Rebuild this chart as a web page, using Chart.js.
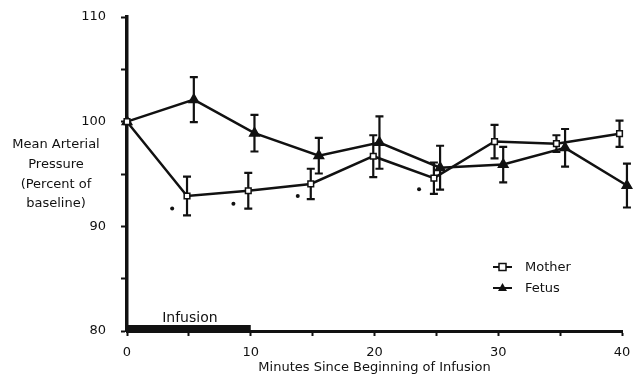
<!DOCTYPE html>
<html>
<head>
<meta charset="utf-8">
<script src="https://cdn.jsdelivr.net/npm/chart.js@4.4.1/dist/chart.umd.min.js"></script>
<style>
  html, body { margin: 0; padding: 0; background: #fff; }
  #wrap { width: 633px; height: 375px; }
</style>
</head>
<body>
<div id="wrap"><canvas id="myChart" width="633" height="375"></canvas></div>
<script>
// values
let motherX = [0, 4.85, 9.8, 14.85, 19.9, 24.8, 29.7, 34.7, 39.8];
let motherY = [100, 92.9, 93.4, 94.05, 96.7, 94.6, 98.1, 97.9, 98.85];
let motherErr = [0, 1.85, 1.7, 1.45, 2.0, 1.5, 1.6, 0.8, 1.25];

let fetusX = [0, 5.4, 10.3, 15.5, 20.4, 25.3, 30.4, 35.4, 40.4];
let fetusY = [100, 102.1, 98.9, 96.75, 98.0, 95.6, 95.9, 97.5, 93.9];
let fetusErr = [0, 2.15, 1.75, 1.7, 2.5, 2.1, 1.7, 1.8, 2.1];

// significance marks (*)
let sigX = [3.65, 8.6, 13.8, 23.6];
let sigY = [91.7, 92.15, 92.9, 93.55];

let infusion = [0, 10];
let yTitle = ['Mean Arterial', 'Pressure', '(Percent of', 'baseline)'];
let xTitle = 'Minutes Since Beginning of Infusion';

const FONT = 'DejaVu Sans';
const INK = '#111';

function pts(xs, ys) {
    return xs.map((x, i) => ({ x: x, y: ys[i] }));
}

// keep the plot box fixed, labels may hang over the padding
function noPad(s) {
    s.paddingLeft = 0; s.paddingRight = 0;
    s.paddingTop = 0; s.paddingBottom = 0;
}

const errorBars = {
    id: 'errorBars',
    beforeDatasetsDraw(chart) {
        const ctx = chart.ctx;
        const xs = chart.scales.x, ys = chart.scales.y;
        const sets = [[motherX, motherY, motherErr], [fetusX, fetusY, fetusErr]];
        ctx.save();
        ctx.strokeStyle = INK;
        ctx.lineWidth = 2.2;
        sets.forEach(s => {
            s[0].forEach((x, i) => {
                if (!s[2][i]) return;
                const px = xs.getPixelForValue(x);
                const top = ys.getPixelForValue(s[1][i] + s[2][i]);
                const bot = ys.getPixelForValue(s[1][i] - s[2][i]);
                ctx.beginPath();
                ctx.moveTo(px, top); ctx.lineTo(px, bot);
                ctx.moveTo(px - 4, top); ctx.lineTo(px + 4, top);
                ctx.moveTo(px - 4, bot); ctx.lineTo(px + 4, bot);
                ctx.stroke();
            });
        });
        ctx.restore();
    }
};

const extras = {
    id: 'extras',
    afterDraw(chart) {
        const ctx = chart.ctx;
        const xs = chart.scales.x;
        const area = chart.chartArea;
        ctx.save();
        // infusion bar
        const x0 = xs.getPixelForValue(infusion[0]);
        const x1 = xs.getPixelForValue(infusion[1]);
        ctx.fillStyle = INK;
        ctx.fillRect(x0, area.bottom - 6, x1 - x0, 8);
        ctx.font = '14px ' + FONT;
        ctx.textAlign = 'center';
        ctx.textBaseline = 'middle';
        ctx.fillText('Infusion', (x0 + x1) / 2 + 1, area.bottom - 13);

        // y title
        ctx.font = '13px ' + FONT;
        yTitle.forEach((t, i) => ctx.fillText(t, 56, 145 + i * 19.7));

        // legend
        const rows = [['Mother', 'rect'], ['Fetus', 'triangle']];
        rows.forEach((r, i) => {
            const y = 267 + i * 21;
            ctx.strokeStyle = INK;
            ctx.lineWidth = 2;
            ctx.beginPath();
            ctx.moveTo(493, y); ctx.lineTo(512, y);
            ctx.stroke();
            if (r[1] === 'rect') {
                ctx.fillStyle = '#fff';
                ctx.fillRect(499, y - 3.5, 7, 7);
                ctx.lineWidth = 1.5;
                ctx.strokeRect(499, y - 3.5, 7, 7);
            } else {
                ctx.fillStyle = INK;
                ctx.beginPath();
                ctx.moveTo(502.5, y - 5); ctx.lineTo(507, y + 3); ctx.lineTo(498, y + 3);
                ctx.closePath(); ctx.fill();
            }
            ctx.fillStyle = INK;
            ctx.textAlign = 'left';
            ctx.font = '13px ' + FONT;
            ctx.fillText(r[0], 525, y + 1);
        });
        ctx.restore();
    }
};

let el = document.getElementById('myChart').getContext('2d');
let myChart = new Chart(el, {
    type: 'line',
    data: {
        datasets: [{
            label: 'Mother',
            data: pts(motherX, motherY),
            borderColor: INK,
            borderWidth: 2.5,
            pointStyle: 'rect',
            pointRadius: 4,
            pointBorderWidth: 1.5,
            pointBackgroundColor: '#fff',
            pointBorderColor: INK,
            tension: 0,
            clip: false
        }, {
            label: 'Fetus',
            data: pts(fetusX, fetusY),
            borderColor: INK,
            borderWidth: 2.5,
            pointStyle: 'triangle',
            pointRadius: 4.5,
            pointBackgroundColor: INK,
            pointBorderColor: INK,
            tension: 0,
            clip: false
        }, {
            label: 'sig',
            data: pts(sigX, sigY),
            showLine: false,
            pointRadius: 2,
            pointBackgroundColor: INK,
            pointBorderWidth: 0,
            clip: false
        }]
    },
    plugins: [errorBars, extras],
    options: {
        responsive: false,
        animation: false,
        layout: { padding: { top: 17, right: 11, left: 0, bottom: 0 } },
        plugins: { legend: { display: false }, tooltip: { enabled: false } },
        scales: {
            x: {
                type: 'linear',
                min: 0, max: 40,
                afterFit: s => { s.height = 44; noPad(s); },
                border: { color: INK, width: 3 },
                grid: { drawOnChartArea: false, tickLength: 5, tickWidth: 2, tickColor: INK },
                ticks: {
                    stepSize: 5, autoSkip: false, maxRotation: 0,
                    padding: 9,
                    color: INK, font: { family: FONT, size: 13 },
                    callback: v => (v % 10 === 0 ? v : '')
                },
                title: {
                    display: true, text: xTitle, color: INK,
                    font: { family: FONT, size: 13 }, padding: { top: 0, bottom: 0 }
                }
            },
            y: {
                min: 80, max: 110,
                afterFit: s => { s.width = 127; noPad(s); },
                border: { color: INK, width: 3.5 },
                grid: { drawOnChartArea: false, tickLength: 6, tickWidth: 2, tickColor: INK },
                ticks: {
                    stepSize: 5, autoSkip: false,
                    padding: 15,
                    color: INK, font: { family: FONT, size: 13 },
                    callback: v => (v % 10 === 0 ? v : '')
                }
            }
        }
    }
});
</script>
</body>
</html>
